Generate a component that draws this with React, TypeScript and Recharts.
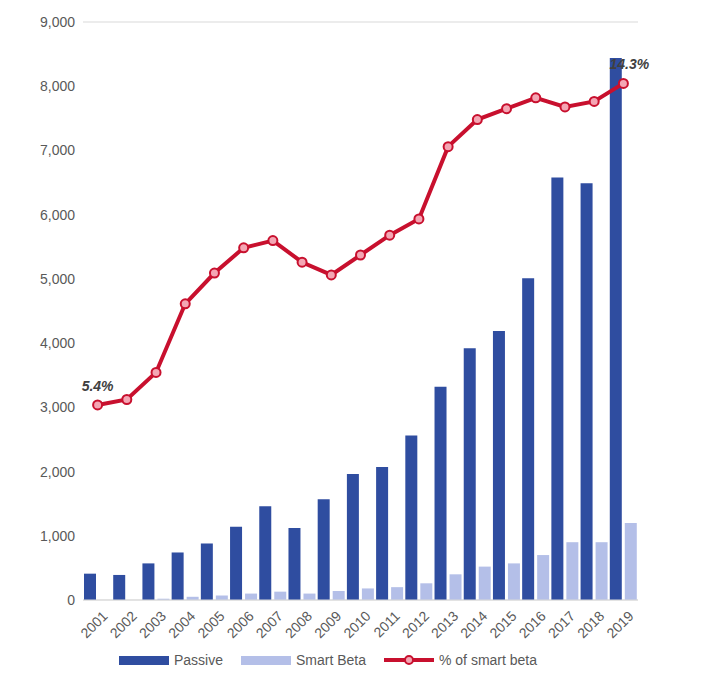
import { Bar, CartesianGrid, ComposedChart, Legend, Line, XAxis, YAxis } from 'recharts'

const years = ['2001','2002','2003','2004','2005','2006','2007','2008','2009','2010','2011','2012','2013','2014','2015','2016','2017','2018','2019']
const passive = [410,390,570,740,880,1140,1460,1120,1570,1960,2070,2560,3320,3920,4190,5010,6580,6490,8440]
const smartBeta = [0,0,20,50,70,100,130,100,140,180,200,260,400,520,570,700,900,900,1200]
const pctSmartBeta = [5.4,5.55,6.3,8.2,9.05,9.75,9.95,9.35,9.0,9.55,10.1,10.55,12.55,13.3,13.6,13.9,13.65,13.8,14.3]

const data = years.map((y, i) => ({ year: y, passive: passive[i], smart: smartBeta[i], pct: pctSmartBeta[i] }))

const legendItems = [
  { label: 'Passive', color: '#2F4DA0', kind: 'bar' },
  { label: 'Smart Beta', color: '#B4BFE8', kind: 'bar' },
  { label: '% of smart beta', color: '#C8102E', kind: 'line' },
]

const EndLabel = (props: any) => {
  const { x, y, index, value } = props
  if (index !== 0 && index !== years.length - 1) return null
  return (
    <text x={x + (index === 0 ? 0 : 6)} y={y - 14} textAnchor="middle" fontSize={14} fontWeight="bold" fontStyle="italic" fill="#404040">
      {value.toFixed(1)}%
    </text>
  )
}

const LegendContent = () => (
  <div style={{ display: 'flex', justifyContent: 'center', gap: 18, fontSize: 14, color: '#595959' }}>
    {legendItems.map((it) => (
      <div key={it.label} style={{ display: 'flex', alignItems: 'center', gap: 5 }}>
        {it.kind === 'bar' ? (
          <span style={{ width: 50, height: 9, background: it.color, display: 'inline-block' }} />
        ) : (
          <svg width={50} height={12}>
            <line x1={0} y1={6} x2={50} y2={6} stroke={it.color} strokeWidth={4} />
            <circle cx={25} cy={6} r={4} fill="#F4A6B4" stroke={it.color} strokeWidth={2} />
          </svg>
        )}
        <span>{it.label}</span>
      </div>
    ))}
  </div>
)

export default function App() {
  return (
    <ComposedChart width={695} height={670} data={data} margin={{ top: 14, right: 65, left: 10, bottom: 10 }}
      style={{ fontFamily: 'Arial, "Liberation Sans", sans-serif' }} barGap={3}>
      <CartesianGrid vertical={false} stroke="#d9d9d9" />
      <XAxis dataKey="year" angle={-45} textAnchor="end" dy={2} dx={4} interval={0} height={52}
        tick={{ fontSize: 14, fill: '#595959' }} tickLine={false} axisLine={{ stroke: '#d9d9d9' }} />
      <YAxis yAxisId="left" domain={[0, 9000]} ticks={[0,1000,2000,3000,4000,5000,6000,7000,8000,9000]} width={65}
        tickFormatter={(v: number) => v.toLocaleString('en-US')} tick={{ fontSize: 14, fill: '#595959' }}
        axisLine={false} tickLine={false} />
      <YAxis yAxisId="right" orientation="right" domain={[0, 16]} hide />
      <Bar yAxisId="left" dataKey="passive" name="Passive" fill="#2F4DA0" barSize={12} isAnimationActive={false} />
      <Bar yAxisId="left" dataKey="smart" name="Smart Beta" fill="#B4BFE8" barSize={12} isAnimationActive={false} />
      <Line yAxisId="right" dataKey="pct" name="% of smart beta" stroke="#C8102E" strokeWidth={4}
        dot={{ r: 4.5, fill: '#F4A6B4', stroke: '#C8102E', strokeWidth: 2 }} label={<EndLabel />} isAnimationActive={false} />
      <Legend verticalAlign="bottom" content={<LegendContent />} />
    </ComposedChart>
  )
}
